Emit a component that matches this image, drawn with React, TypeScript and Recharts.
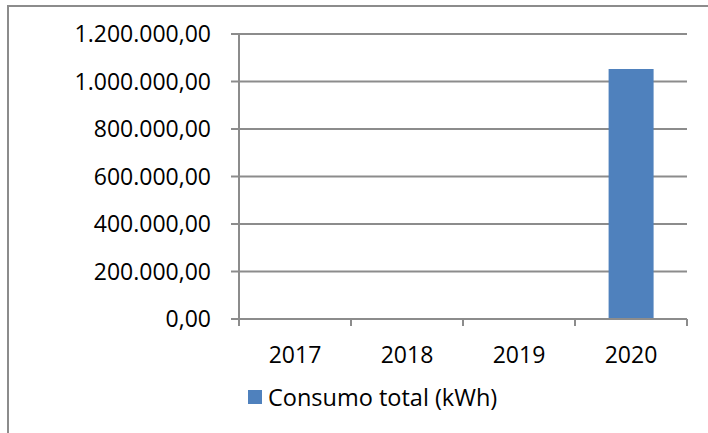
import React from "react";
import {Bar, BarChart, CartesianGrid, Legend, XAxis, YAxis} from "recharts";

const years = ["2017", "2018", "2019", "2020"];
const consumo = [0, 0, 0, 1053000];
const yTicks = [0, 200000, 400000, 600000, 800000, 1000000, 1200000];
const seriesName = "Consumo total (kWh)";

const data = years.map((year, i) => ({year, consumo: consumo[i]}));

const FONT = "'Open Sans', 'Noto Sans', sans-serif";
const GRAY = "#8c8c8c";
const BLUE = "#4f81bd";
const X_TICK_SIZE = 7;
const X_TICK_MARGIN = 21;

// pt-BR style: 1.200.000,00
const formatBR = (v: number) => {
    const [int, dec] = v.toFixed(2).split(".");
    return int.replace(/\B(?=(\d{3})+(?!\d))/g, ".") + "," + dec;
};

// Excel style: tick marks sit between categories, label in the middle
const XTick = (props: any) => {
    const {x, y, payload, index, visibleTicksCount} = props;
    const half = payload.offset ?? 56;
    const top = y - X_TICK_MARGIN - X_TICK_SIZE;
    return (
        <g>
            <line x1={x - half} x2={x - half} y1={top} y2={top + X_TICK_SIZE} stroke={GRAY} strokeWidth={2}/>
            {index === visibleTicksCount - 1 &&
                <line x1={x + half} x2={x + half} y1={top} y2={top + X_TICK_SIZE} stroke={GRAY} strokeWidth={2}/>}
            <text x={x} y={y} dy="0.68em" textAnchor="middle" fill="#000" fontSize={23} fontFamily={FONT}>
                {payload.value}
            </text>
        </g>
    );
};

const LegendContent = (props: any) => {
    const {payload} = props;
    return (
        <div style={{display: "flex", alignItems: "center", height: 30, lineHeight: "30px"}}>
            {(payload || []).map((p: any) => (
                <div key={p.value} style={{display: "flex", alignItems: "center"}}>
                    <span style={{display: "inline-block", width: 14, height: 14, background: p.color, marginRight: 6}}/>
                    <span style={{fontFamily: FONT, fontSize: 23.5, color: "#000", whiteSpace: "nowrap"}}>{p.value}</span>
                </div>
            ))}
        </div>
    );
};

export default function App() {
    return (
        <div style={{position: "absolute", left: 0, top: 0, width: 708, height: 433, overflow: "hidden", background: "#fff"}}>
            <div style={{
                position: "absolute", left: 7, top: 5, width: 760, height: 480,
                border: `2px solid ${GRAY}`, boxSizing: "border-box"
            }}/>
            <div style={{position: "absolute", left: 0, top: 0}}>
                <BarChart width={708} height={433} data={data} barCategoryGap="30%"
                          margin={{top: 34, right: 21, left: 0, bottom: 34}}>
                    <CartesianGrid vertical={false} stroke={GRAY} strokeWidth={2}/>
                    <XAxis dataKey="year" height={50} tickLine={false} tickSize={X_TICK_SIZE}
                           tickMargin={X_TICK_MARGIN} axisLine={{stroke: GRAY, strokeWidth: 2}}
                           tick={<XTick/>} interval={0}/>
                    <YAxis width={239} domain={[0, 1200000]} ticks={yTicks} interval={0}
                           tickFormatter={formatBR} tickSize={8} tickMargin={20}
                           axisLine={{stroke: GRAY, strokeWidth: 2}}
                           tickLine={{stroke: GRAY, strokeWidth: 2}}
                           tick={{fill: "#000", fontSize: 23, fontFamily: FONT}}/>
                    <Legend verticalAlign="bottom" content={<LegendContent/>}
                            wrapperStyle={{top: 382, left: 248, bottom: "auto", width: 330, height: 30}}/>
                    <Bar dataKey="consumo" name={seriesName} fill={BLUE} isAnimationActive={false}/>
                </BarChart>
            </div>
        </div>
    );
}
